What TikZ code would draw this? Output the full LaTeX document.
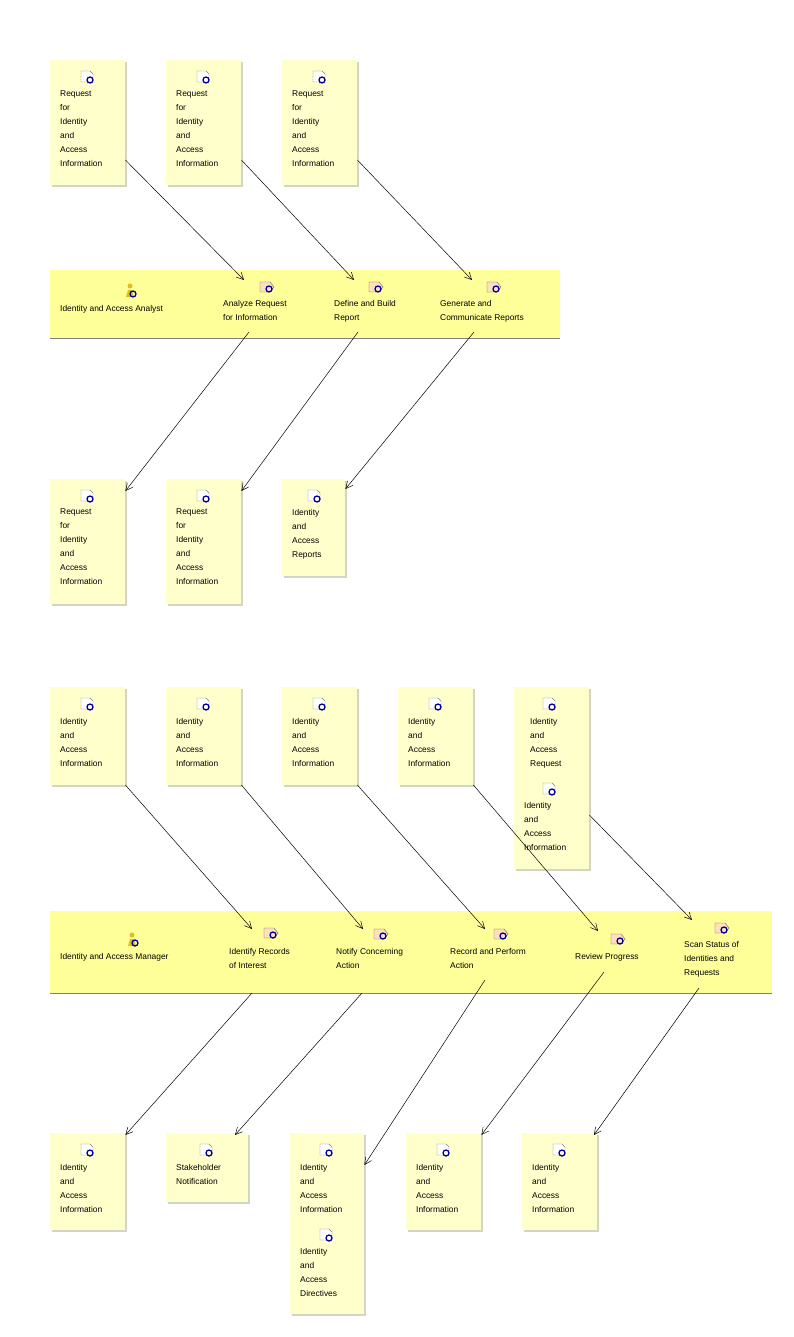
\documentclass[tikz,border=0pt]{standalone}
\usepackage{fontspec}
\setmainfont{Liberation Sans}
\usetikzlibrary{arrows.meta}
\begin{document}
\begin{tikzpicture}[x=1pt,y=-1pt,
  box/.style={fill=boxfill,draw=none,inner sep=0pt},
  lane/.style={fill=lanefill,draw=none},
  txt/.style={anchor=north west,inner sep=0pt,align=left,font=\fontsize{8.4}{14}\selectfont},
  arr/.style={-{Straight Barb[length=7pt,width=7pt]},line width=0.5pt}]
\definecolor{boxfill}{HTML}{FFFFCC}
\definecolor{lanefill}{HTML}{FFFF99}
\definecolor{shade}{HTML}{B8B8A0}
\useasboundingbox (0,0) rectangle (794,1337);
% helpers
\newcommand\ibox[5]{% name x1 y1 x2 y2
  \fill[shade!60] (#2+2,#3+2) rectangle (#4+2,#5+2);
  \path[box] (#2,#3) rectangle (#4,#5);
  \node[inner sep=0pt,minimum width={(#4-#2)*1pt},minimum height={(#5-#3)*1pt},anchor=north west] (#1) at (#2,#3) {};}
\newcommand\docicon[2]{% center
  \draw[gray,fill=white,line width=0.4pt] (#1-6,#2-6) -- (#1+3,#2-6) -- (#1+6,#2-3) -- (#1+6,#2+5) -- (#1-6,#2+5) -- cycle;
  \draw[blue!60!black,line width=1.3pt] (#1+3,#2+3) circle (3);}
\newcommand\taskicon[2]{%
  \draw[gray!80!black,fill=orange!25,line width=0.4pt] (#1-7,#2-5) -- (#1+3,#2-5) -- (#1+7,#2) -- (#1+3,#2+5) -- (#1-7,#2+5) -- cycle;
  \draw[blue!60!black,line width=1.3pt] (#1+2,#2+2) circle (3);}
\newcommand\actoricon[2]{%
  \fill[brown!50!yellow] (#1-1,#2-5) circle (2.5);
  \fill[brown!50!yellow] (#1-5,#2+6) -- (#1-3,#2-1) -- (#1+1,#2-1) -- (#1+3,#2+6) -- cycle;
  \draw[blue!60!black,line width=1.3pt] (#1+2,#2+3) circle (3);}
%% ===== section 1
\ibox{a1}{50}{60}{125}{185}\docicon{87}{77}
\node[txt] at (60,91) {Request\\for\\Identity\\and\\Access\\Information};
\ibox{a2}{166}{60}{241}{185}\docicon{203}{77}
\node[txt] at (176,91) {Request\\for\\Identity\\and\\Access\\Information};
\ibox{a3}{282}{60}{357}{185}\docicon{319}{77}
\node[txt] at (292,91) {Request\\for\\Identity\\and\\Access\\Information};
\fill[lanefill] (50,270) rectangle (560,338);
\draw[gray] (50,338.5) -- (560,338.5);
\actoricon{131}{291}
\node[txt] at (60,305) {Identity and Access Analyst};
\taskicon{267}{287}\node[txt] at (223,300) {Analyze Request\\for Information};
\taskicon{376}{287}\node[txt] at (334,300) {Define and Build\\Report};
\taskicon{494}{287}\node[txt] at (440,300) {Generate and\\Communicate Reports};
\coordinate (t1) at (244,280);\coordinate (t2) at (354,280);\coordinate (t3) at (472,280);
\coordinate (o1) at (249,332);\coordinate (o2) at (358,332);\coordinate (o3) at (474,332);
\ibox{b1}{50}{479}{125}{604}\docicon{87}{496}
\node[txt] at (60,509) {Request\\for\\Identity\\and\\Access\\Information};
\ibox{b2}{166}{479}{241}{604}\docicon{203}{496}
\node[txt] at (176,509) {Request\\for\\Identity\\and\\Access\\Information};
\ibox{b3}{282}{479}{345}{576}\docicon{314}{496}
\node[txt] at (292,509) {Identity\\and\\Access\\Reports};
\draw[arr] (a1.east|-0,160) -- (t1);
\draw[arr] (a2.east|-0,160) -- (t2);
\draw[arr] (a3.east|-0,160) -- (t3);
\draw[arr] (o1) -- (b1.east|-0,491);
\draw[arr] (o2) -- (b2.east|-0,491);
\draw[arr] (o3) -- (b3.east|-0,489);
%% ===== section 2
\ibox{c1}{50}{687}{125}{785}\docicon{87}{704}
\node[txt] at (60,718) {Identity\\and\\Access\\Information};
\ibox{c2}{166}{687}{241}{785}\docicon{203}{704}
\node[txt] at (176,718) {Identity\\and\\Access\\Information};
\ibox{c3}{282}{687}{357}{785}\docicon{319}{704}
\node[txt] at (292,718) {Identity\\and\\Access\\Information};
\ibox{c4}{398}{687}{473}{785}\docicon{435}{704}
\node[txt] at (408,718) {Identity\\and\\Access\\Information};
\ibox{c5}{514}{687}{589}{869}\docicon{549}{704}\docicon{549}{789}
\node[txt] at (530,718) {Identity\\and\\Access\\Request};
\node[txt] at (524,802) {Identity\\and\\Access\\Information};
\fill[lanefill] (50,911) rectangle (772,993);
\draw[gray] (50,993.5) -- (772,993.5);
\actoricon{133}{940}
\node[txt] at (60,953) {Identity and Access Manager};
\taskicon{271}{933}\node[txt] at (229,948) {Identify Records\\of Interest};
\taskicon{381}{934}\node[txt] at (336,948) {Notify Concerning\\Action};
\taskicon{501}{934}\node[txt] at (450,948) {Record and Perform\\Action};
\taskicon{618}{939}\node[txt] at (575,953) {Review Progress};
\taskicon{722}{928}\node[txt] at (684,941) {Scan Status of\\Identities and\\Requests};
\coordinate (u1) at (252,929);\coordinate (u2) at (363,929);\coordinate (u3) at (485,929);
\coordinate (u4) at (598,931);\coordinate (u5) at (692,920);
\coordinate (p1) at (252,993);\coordinate (p2) at (362,993);\coordinate (p3) at (485,980);
\coordinate (p4) at (604,972);\coordinate (p5) at (699,988);
\ibox{d1}{50}{1133}{125}{1230}\docicon{87}{1150}
\node[txt] at (60,1164) {Identity\\and\\Access\\Information};
\ibox{d2}{166}{1133}{248}{1202}\docicon{206}{1150}
\node[txt] at (176,1164) {Stakeholder\\Notification};
\ibox{d3}{290}{1133}{364}{1314}\docicon{326}{1150}\docicon{326}{1235}
\node[txt] at (300,1164) {Identity\\and\\Access\\Information};
\node[txt] at (300,1248) {Identity\\and\\Access\\Directives};
\ibox{d4}{406}{1133}{481}{1230}\docicon{443}{1150}
\node[txt] at (416,1164) {Identity\\and\\Access\\Information};
\ibox{d5}{522}{1133}{597}{1230}\docicon{559}{1150}
\node[txt] at (532,1164) {Identity\\and\\Access\\Information};
\draw[arr] (c1.east|-0,785) -- (u1);
\draw[arr] (c2.east|-0,785) -- (u2);
\draw[arr] (c3.east|-0,785) -- (u3);
\draw[arr] (c4.east|-0,785) -- (u4);
\draw[arr] (c5.east|-0,815) -- (u5);
\draw[arr] (p1) -- (d1.east|-0,1135);
\draw[arr] (p2) -- (235,1135);
\draw[arr] (p3) -- (d3.east|-0,1165);
\draw[arr] (p4) -- (d4.east|-0,1135);
\draw[arr] (p5) -- (594,1135);
\end{tikzpicture}
\end{document}
